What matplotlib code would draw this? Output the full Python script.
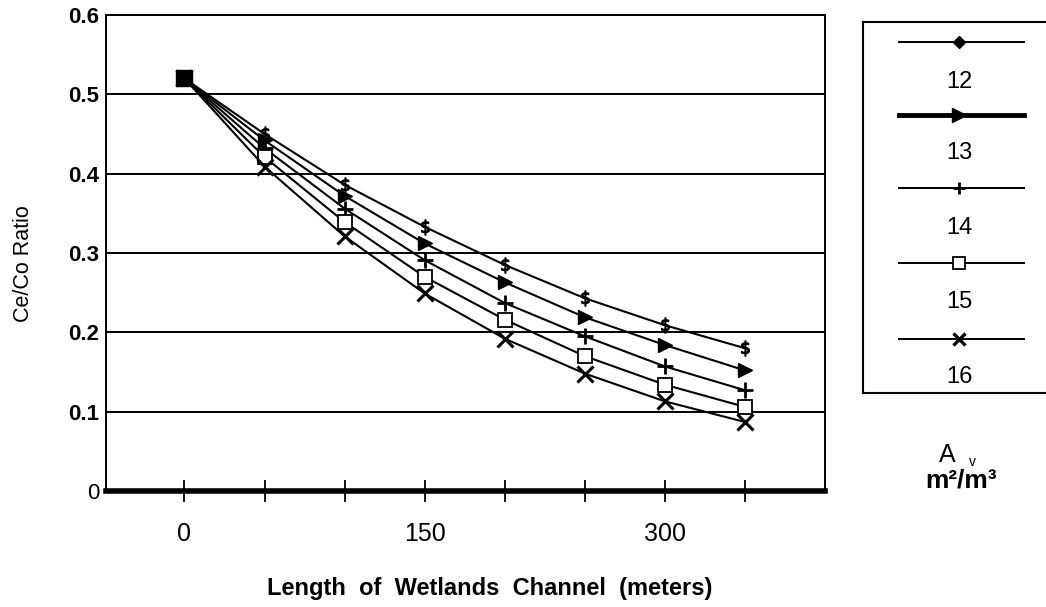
import numpy as np
import matplotlib
matplotlib.use("Agg")
import matplotlib.pyplot as plt

plt.rcParams['font.family'] = ['Liberation Sans', 'DejaVu Sans']

# data
length_m = [0, 50, 100, 150, 200, 250, 300, 350]
av_labels = ['12', '13', '14', '15', '16']
ratio_12 = [0.52, 0.450, 0.386, 0.333, 0.285, 0.243, 0.209, 0.180]
ratio_13 = [0.52, 0.442, 0.372, 0.312, 0.263, 0.219, 0.184, 0.152]
ratio_14 = [0.52, 0.432, 0.356, 0.291, 0.237, 0.195, 0.157, 0.127]
ratio_15 = [0.52, 0.421, 0.339, 0.270, 0.216, 0.170, 0.134, 0.106]
ratio_16 = [0.52, 0.409, 0.321, 0.249, 0.192, 0.148, 0.113, 0.087]
x_tick_labels = ['0', '', '', '150', '', '', '300', '']
y_ticks = [0, 0.1, 0.2, 0.3, 0.4, 0.5, 0.6]
y_tick_labels = ['0', '0.1', '0.2', '0.3', '0.4', '0.5', '0.6']

series = [ratio_12, ratio_13, ratio_14, ratio_15, ratio_16]
styles = [
    dict(marker='$\\$$', ms=11, mfc='black', mec='black', mew=0.9),
    dict(marker='>', ms=10, mfc='black', mec='black'),
    dict(marker='+', ms=12, mec='black', mew=2.0),
    dict(marker='s', ms=10, mfc='white', mec='black', mew=1.3),
    dict(marker='x', ms=11, mec='black', mew=2.2),
]
legend_styles = [
    dict(marker='D', ms=6, mfc='black', mec='black'),
    dict(marker='>', ms=10, mfc='black', mec='black'),
    dict(marker='+', ms=8, mec='black', mew=2.0),
    dict(marker='s', ms=9, mfc='white', mec='black', mew=1.3),
    dict(marker='x', ms=9, mec='black', mew=2.4),
]
legend_lw = [1.4, 3.5, 1.4, 1.4, 1.4]

fig = plt.figure(figsize=(10.46, 6.07), dpi=100)
ax = fig.add_axes([106/1046, 1-491/607, 719/1046, 476/607])

for vals, st in zip(series, styles):
    ax.plot(length_m, vals, color='black', lw=1.5, **st)
# common start point drawn as a filled square
ax.plot(length_m[0], ratio_12[0], marker='s', ms=12, color='black', ls='none')

ax.set_xlim(-49, 400)
ax.set_ylim(0, 0.6)
ax.set_xticks(length_m)
ax.set_xticklabels(x_tick_labels, fontsize=18)
ax.tick_params(axis='x', direction='inout', length=16, width=1.3, pad=14)
ax.set_yticks(y_ticks)
ax.set_yticklabels(y_tick_labels, fontsize=16)
for lab in ax.get_yticklabels()[1:]:
    lab.set_fontweight('bold')
ax.tick_params(axis='y', length=0, pad=5)
ax.grid(axis='y', color='black', lw=1.4)
ax.set_axisbelow(True)

for side in ['left', 'right', 'top']:
    ax.spines[side].set_linewidth(1.4)
ax.spines['bottom'].set_linewidth(4)

ax.set_xlabel('Length  of  Wetlands  Channel  (meters)', fontsize=17,
              fontweight='bold')
ax.xaxis.set_label_coords((490-106)/719, -(577-491)/476)
ax.set_ylabel('Ce/Co Ratio', fontsize=15.5)
ax.yaxis.set_label_coords(-(106-34)/719, (491-264)/476)

# legend drawn as its own box on the right
lg = fig.add_axes([863/1046, 1-393/607, 0.2, 371/607])
lg.set_xlim(0, 1)
lg.set_ylim(0, 1)
lg.set_xticks([])
lg.set_yticks([])
for side in lg.spines.values():
    side.set_linewidth(1.5)
row_line = (393 - np.array([42, 115, 188, 263, 339])) / 371
row_text = (393 - np.array([82, 153, 228, 302, 377])) / 371
for lab, st, lw, yl, yt in zip(av_labels, legend_styles, legend_lw, row_line, row_text):
    lg.plot([0.17, 0.77], [yl, yl], color='black', lw=lw)
    lg.plot([0.46], [yl], color='black', **st)
    lg.text(0.46, yt, lab, ha='center', va='center', fontsize=17)

fig.text(947/1046, 1-455/607, 'A', ha='center', va='center', fontsize=18)
fig.text(972/1046, 1-462/607, 'v', ha='center', va='center', fontsize=10)
fig.text(961/1046, 1-481/607, 'm²/m³', ha='center', va='center',
         fontsize=19, fontweight='bold')

fig.savefig('out.png', dpi=100)
